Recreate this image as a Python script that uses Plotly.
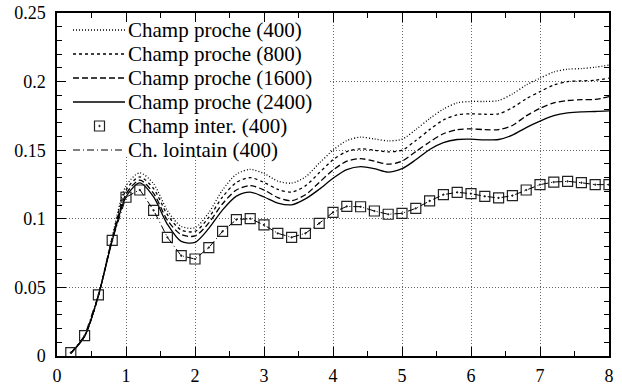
import plotly.graph_objects as go

x = [round(0.2 * i, 1) for i in range(1, 41)]

proche_400 = [0.002, 0.0145, 0.044, 0.087, 0.124, 0.1335, 0.1255, 0.106, 0.0945, 0.0935,
              0.1045, 0.121, 0.1325, 0.1360, 0.1330, 0.1275, 0.1260, 0.1305, 0.1405, 0.1500,
              0.1570, 0.1595, 0.1582, 0.1568, 0.1580, 0.1650, 0.1730, 0.1800, 0.1845, 0.1855,
              0.1855, 0.1862, 0.1910, 0.1975, 0.2025, 0.2070, 0.2090, 0.2095, 0.2105, 0.2120]
proche_800 = [0.002, 0.0145, 0.044, 0.086, 0.121, 0.1305, 0.122, 0.103, 0.0918, 0.0908,
              0.101, 0.116, 0.1265, 0.1300, 0.1265, 0.1215, 0.1195, 0.1240, 0.1335, 0.1430,
              0.1490, 0.1510, 0.1500, 0.1488, 0.1500, 0.1570, 0.1650, 0.1720, 0.1758, 0.1765,
              0.1762, 0.1765, 0.1810, 0.1875, 0.1927, 0.1975, 0.2000, 0.2005, 0.2010, 0.2025]
proche_1600 = [0.002, 0.0145, 0.044, 0.085, 0.118, 0.1282, 0.1185, 0.099, 0.0885, 0.0875,
               0.097, 0.111, 0.121, 0.1242, 0.121, 0.1155, 0.1132, 0.1175, 0.1265, 0.1355,
               0.1420, 0.1438, 0.1420, 0.1398, 0.1420, 0.1490, 0.1560, 0.1620, 0.1650, 0.1655,
               0.1650, 0.1650, 0.1680, 0.1750, 0.1805, 0.1845, 0.1862, 0.1868, 0.1870, 0.1890]
proche_2400 = [0.002, 0.0145, 0.044, 0.084, 0.116, 0.1262, 0.116, 0.096, 0.0835, 0.0828,
               0.093, 0.1065, 0.1165, 0.1195, 0.1159, 0.1115, 0.1102, 0.1145, 0.1215, 0.1295,
               0.1358, 0.1380, 0.1365, 0.1340, 0.1365, 0.1430, 0.1505, 0.1555, 0.1578, 0.1580,
               0.1575, 0.1578, 0.1610, 0.1665, 0.1712, 0.1752, 0.1772, 0.1780, 0.1782, 0.1786]
inter_400 = [0.0024, 0.0148, 0.0445, 0.0843, 0.1157, 0.121, 0.1062, 0.0865, 0.0731, 0.0707,
             0.079, 0.0909, 0.0994, 0.1001, 0.0955, 0.0894, 0.0865, 0.0894, 0.0967, 0.1047,
             0.1090, 0.1088, 0.1057, 0.1033, 0.1040, 0.1076, 0.1130, 0.1176, 0.1193, 0.1183,
             0.1164, 0.1152, 0.1169, 0.1210, 0.1249, 0.1268, 0.1273, 0.1263, 0.1249, 0.1249]
lointain_400 = [0.0024, 0.0148, 0.0445, 0.0843, 0.1157, 0.1212, 0.1062, 0.0865, 0.0731, 0.0707,
                0.079, 0.0909, 0.0994, 0.1001, 0.0955, 0.0894, 0.0865, 0.0894, 0.0967, 0.1047,
                0.1090, 0.1088, 0.1057, 0.1033, 0.1040, 0.1076, 0.1130, 0.1176, 0.1193, 0.1183,
                0.1164, 0.1152, 0.1169, 0.1210, 0.1249, 0.1268, 0.1273, 0.1263, 0.1249, 0.1249]

names = ["Champ proche (400)", "Champ proche (800)", "Champ proche (1600)",
         "Champ proche (2400)", "Champ inter. (400)", "Ch. lointain (400)"]

x_ticks = [0, 1, 2, 3, 4, 5, 6, 7, 8]
y_ticks = [0, 0.05, 0.1, 0.15, 0.2, 0.25]
y_tick_text = ["0", "0.05", "0.1", "0.15", "0.2", "0.25"]

SERIF = "Times New Roman, Liberation Serif, serif"
W, H = 622, 387
ML, MR, MT, MB = 57, 13, 13, 31
PW, PH = W - ML - MR, H - MT - MB
X_RANGE = [0, 8]
Y_RANGE = [0, 0.25]

dashes = ["1px,2px", "3px,3px", "6px,3px", "solid"]
dash_lointain = "7px,3px,1px,3px"

fig = go.Figure()
for ys, dash, nm in zip([proche_400, proche_800, proche_1600, proche_2400], dashes, names[:4]):
    fig.add_trace(go.Scatter(x=x, y=ys, name=nm, mode="lines",
                             line=dict(color="black", width=1.3, dash=dash,
                                       shape="spline", smoothing=0.8)))

fig.add_trace(go.Scatter(x=x, y=inter_400, name=names[4], mode="markers",
                         marker=dict(symbol="square-open-dot", size=10, color="#222",
                                     line=dict(width=1.2, color="#222"))))
fig.add_trace(go.Scatter(x=x, y=lointain_400, name=names[5], mode="lines",
                         line=dict(color="black", width=1, dash=dash_lointain)))

axis_common = dict(showline=True, linecolor="black", linewidth=1.5, mirror="allticks",
                   ticks="inside", ticklen=9, tickwidth=1, tickcolor="black",
                   showgrid=True, gridcolor="#666", griddash="1px,2px", gridwidth=1,
                   zeroline=False, automargin=False,
                   tickfont=dict(family=SERIF, size=18, color="black"))

fig.update_xaxes(range=X_RANGE, tickvals=x_ticks, **axis_common, ticklabelstandoff=3,
                 minor=dict(dtick=0.5, ticks="inside", ticklen=5, tickcolor="black", showgrid=False))
fig.update_yaxes(range=Y_RANGE, tickvals=y_ticks, ticktext=y_tick_text, **axis_common,
                 ticklabelstandoff=6,
                 minor=dict(dtick=0.01, ticks="inside", ticklen=5, tickcolor="black", showgrid=False))


# key box placement (pixel layout -> paper / axis coordinates)
def px(xp):
    return (xp - ML) / PW


def py(yp):
    return (H - MB - yp) / PH


def dx(xp):
    return X_RANGE[0] + px(xp) * (X_RANGE[1] - X_RANGE[0])


def dy(yp):
    return Y_RANGE[0] + py(yp) * (Y_RANGE[1] - Y_RANGE[0])


shapes = [dict(type="rect", xref="x", yref="y", layer="between",
               x0=dx(58.5), x1=dx(328), y0=dy(157), y1=dy(14.5),
               fillcolor="white", line=dict(width=0))]
annotations = []
row_y = [30, 54, 78, 102, 126, 150]
styles = dashes + [None, dash_lointain]
for i, (nm, st) in enumerate(zip(names, styles)):
    yy = py(row_y[i])
    if st is None:
        shapes.append(dict(type="rect", xref="paper", yref="paper", layer="above",
                           x0=px(94.5), x1=px(104.5), y0=py(row_y[i] + 5), y1=py(row_y[i] - 5),
                           line=dict(color="#222", width=1.2), fillcolor="rgba(0,0,0,0)"))
        shapes.append(dict(type="circle", xref="paper", yref="paper", layer="above",
                           x0=px(98.8), x1=px(100.2), y0=py(row_y[i] + 0.7), y1=py(row_y[i] - 0.7),
                           line=dict(color="#222", width=1), fillcolor="#222"))
    else:
        shapes.append(dict(type="line", xref="paper", yref="paper", layer="above",
                           x0=px(73), x1=px(125), y0=yy, y1=yy,
                           line=dict(color="black", width=1.3 if i < 4 else 1, dash=st)))
    annotations.append(dict(text=nm, xref="paper", yref="paper", x=px(126), y=yy,
                            xanchor="left", yanchor="middle", showarrow=False,
                            font=dict(family=SERIF, size=21, color="black")))

fig.update_layout(
    width=W, height=H,
    margin=dict(l=ML, r=MR, t=MT, b=MB),
    paper_bgcolor="white", plot_bgcolor="white",
    showlegend=False,
    shapes=shapes,
    annotations=annotations,
)

fig.write_html("out.html", config={"displayModeBar": False},
               post_script="document.body.style.margin='0px';")
